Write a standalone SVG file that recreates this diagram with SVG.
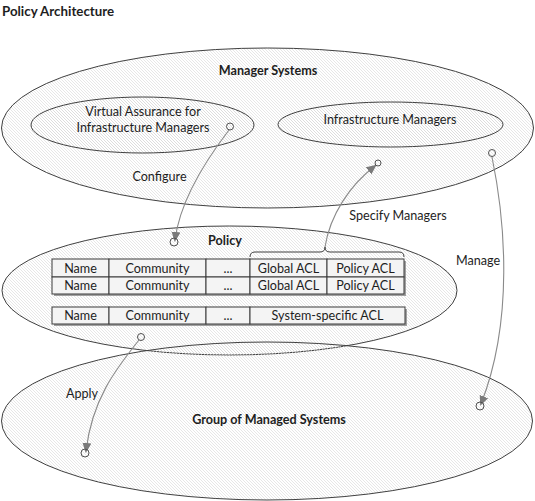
<svg xmlns="http://www.w3.org/2000/svg" width="535" height="501" viewBox="0 0 535 501">
<defs>
<pattern id="hatch" width="3" height="3" patternUnits="userSpaceOnUse">
<path d="M0,0 L3,3 M-1,2 L1,4 M2,-1 L4,1" stroke="#d6d6d6" stroke-width="0.6"/>
</pattern>
<marker id="arr" viewBox="0 0 10 10" refX="8" refY="5" markerWidth="10" markerHeight="10" markerUnits="userSpaceOnUse" orient="auto">
<path d="M0,0.5 L10,5 L0,9.5 Z" fill="#7a7a7a"/>
</marker>
<style>
.ell{fill:url(#hatch);stroke:#404040;stroke-width:1}
.t{font-family:Lato,"Liberation Sans",sans-serif;font-size:12.6px;fill:#1e1e1e;text-anchor:middle}
.b{font-weight:bold}
.cell{fill:#f4f4f4;stroke:#3a3a3a;stroke-width:1}
.sh{fill:#a0a0a0}
.conn{fill:none;stroke:#8a8a8a;stroke-width:1.1}
.pt{fill:none;stroke:#505050;stroke-width:1}
</style>
</defs>
<rect width="535" height="501" fill="#ffffff"/>
<text id="title" class="t b" x="2" y="16" style="text-anchor:start;font-size:13.3px">Policy Architecture</text>

<g id="manager-systems">
<ellipse class="ell" cx="267.5" cy="128" rx="266" ry="80"/>
<text class="t b" x="268" y="75">Manager Systems</text>
</g>
<g id="vaim">
<ellipse class="ell" cx="142.5" cy="125" rx="111.5" ry="28"/>
<text class="t" x="143" y="116">Virtual Assurance for</text>
<text class="t" x="143" y="132">Infrastructure Managers</text>
</g>
<g id="infrastructure-managers">
<ellipse class="ell" cx="390.5" cy="124.5" rx="112.5" ry="22.5"/>
<text class="t" x="390" y="124">Infrastructure Managers</text>
</g>
<g id="policy">
<ellipse class="ell" cx="229.5" cy="290.5" rx="227.5" ry="64.5"/>
<text class="t b" x="225" y="245">Policy</text>
</g>
<g id="group-managed-systems">
<ellipse class="ell" cx="267" cy="421" rx="265.5" ry="79"/>
<text class="t b" x="269" y="424">Group of Managed Systems</text>
</g>
<g id="policy-table">
<rect class="sh" x="54" y="261" width="352" height="35"/>
<rect class="sh" x="54" y="309" width="353" height="17"/>
<rect class="cell" x="52" y="259" width="57" height="18"/>
<rect class="cell" x="109" y="259" width="97" height="18"/>
<rect class="cell" x="206" y="259" width="44" height="18"/>
<rect class="cell" x="250" y="259" width="77" height="18"/>
<rect class="cell" x="327" y="259" width="77" height="18"/>
<rect class="cell" x="52" y="277" width="57" height="17"/>
<rect class="cell" x="109" y="277" width="97" height="17"/>
<rect class="cell" x="206" y="277" width="44" height="17"/>
<rect class="cell" x="250" y="277" width="77" height="17"/>
<rect class="cell" x="327" y="277" width="77" height="17"/>
<rect class="cell" x="52" y="307" width="57" height="17"/>
<rect class="cell" x="109" y="307" width="97" height="17"/>
<rect class="cell" x="206" y="307" width="44" height="17"/>
<rect class="cell" x="250" y="307" width="155" height="17"/>
<text class="t" x="80.5" y="272.5">Name</text>
<text class="t" x="157.5" y="272.5">Community</text>
<text class="t" x="228" y="272.5">...</text>
<text class="t" x="288.5" y="272.5">Global ACL</text>
<text class="t" x="365.5" y="272.5">Policy ACL</text>
<text class="t" x="80.5" y="290">Name</text>
<text class="t" x="157.5" y="290">Community</text>
<text class="t" x="228" y="290">...</text>
<text class="t" x="288.5" y="290">Global ACL</text>
<text class="t" x="365.5" y="290">Policy ACL</text>
<text class="t" x="80.5" y="320">Name</text>
<text class="t" x="157.5" y="320">Community</text>
<text class="t" x="228" y="320">...</text>
<text class="t" x="327.5" y="320">System-specific ACL</text>
<path d="M250,257 Q250,252 255,252 L320,252 Q325,252 325,247 Q325,252 330,252 L399,252 Q404,252 404,257" fill="none" stroke="#404040" stroke-width="1"/>
</g>

<g id="connectors">
<path class="conn" d="M229,130 C206,160 180,200 175,240" marker-end="url(#arr)"/>
<path class="conn" d="M325,247 C330,215 350,185 375,166" marker-end="url(#arr)"/>
<path class="conn" d="M492,157 C505,220 514,320 481,404" marker-end="url(#arr)"/>
<path class="conn" d="M139,340 C115,370 92,400 86,451" marker-end="url(#arr)"/>
<circle class="pt" cx="230" cy="126.5" r="3.5"/>
<circle class="pt" cx="378" cy="163" r="3"/>
<circle class="pt" cx="492" cy="153" r="3.5"/>
<circle class="pt" cx="141" cy="337" r="3.5"/>
<circle class="pt" cx="174" cy="242" r="4"/>
<circle class="pt" cx="480" cy="406" r="4"/>
<circle class="pt" cx="85" cy="453" r="4"/>
<text class="t" x="159.5" y="181">Configure</text>
<text class="t" x="398" y="220">Specify Managers</text>
<text class="t" x="478" y="265">Manage</text>
<text class="t" x="82" y="398">Apply</text>
</g>
</svg>
